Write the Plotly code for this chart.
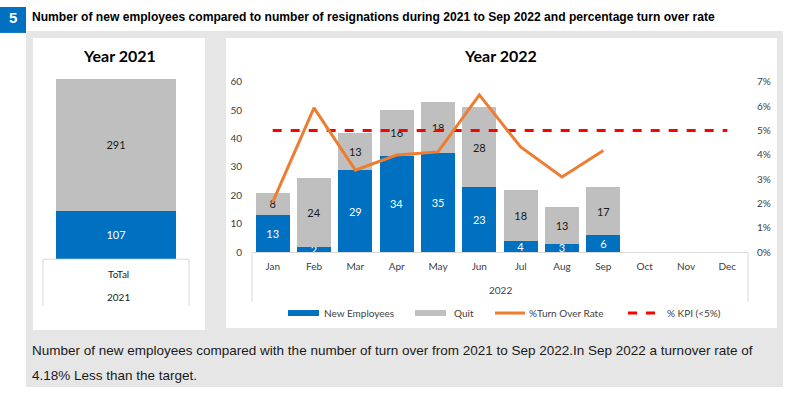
import plotly.graph_objects as go

W, H = 786, 393

# ---------------- data ----------------
months = ["Jan", "Feb", "Mar", "Apr", "May", "Jun", "Jul", "Aug", "Sep", "Oct", "Nov", "Dec"]
new_2022 = [13, 2, 29, 34, 35, 23, 4, 3, 6]
quit_2022 = [8, 24, 13, 16, 18, 28, 18, 13, 17]
turnover_rate = [0.0206, 0.0593, 0.0337, 0.0399, 0.0412, 0.0646, 0.0432, 0.0309, 0.0418]
kpi_rate = [0.05] * 12

year21_cat = ["2021"]
new_2021 = [107]
quit_2021 = [291]

y_ticks = [0, 10, 20, 30, 40, 50, 60]
y2_ticks = [0, 0.01, 0.02, 0.03, 0.04, 0.05, 0.06, 0.07]

header_title = "Number of new employees compared to number of resignations during 2021 to Sep 2022 and percentage turn over rate"
footer_line1 = "Number of new employees compared with the number of turn over from 2021 to Sep 2022.In Sep 2022 a turnover rate of"
footer_line2 = "4.18% Less than the target."

# ---------------- helpers (reference-pixel -> paper) ----------------
def px(x):
    return x / W

def py(y):
    page_y = (y - 6) / 0.97
    page_y = min(max(page_y, 0), H)
    return 1 - page_y / H

BLUE = "#0070C0"
GRAY = "#BFBFBF"
ORANGE = "#ED7D31"
RED = "#FF0000"
PANEL_BG = "#E7E6E6"
LINE = "#D9D9D9"
TXT = "#404040"
CHART_FONT = "Lato, Calibri, Carlito, sans-serif"

fig = go.Figure()

# ---------------- 2022 chart ----------------
fig.add_trace(go.Bar(
    x=months[:len(new_2022)], y=new_2022, name="New Employees",
    marker=dict(color=BLUE, line=dict(width=0)),
    text=new_2022, textposition="inside", insidetextanchor="middle", textangle=0,
    textfont=dict(color="white", size=11, family=CHART_FONT),
    xaxis="x", yaxis="y", showlegend=False, cliponaxis=True,
))
fig.add_trace(go.Bar(
    x=months[:len(quit_2022)], y=quit_2022, name="Quit",
    marker=dict(color=GRAY, line=dict(width=0)),
    text=quit_2022, textposition="inside", insidetextanchor="middle", textangle=0,
    textfont=dict(color="#1a1a1a", size=11, family=CHART_FONT),
    xaxis="x", yaxis="y", showlegend=False, cliponaxis=True,
))
fig.add_trace(go.Scatter(
    x=months[:len(kpi_rate)], y=kpi_rate, mode="lines", name="% KPI (<5%)",
    line=dict(color=RED, width=3, dash="dash"),
    xaxis="x", yaxis="y2", showlegend=False,
))
fig.add_trace(go.Scatter(
    x=months[:len(turnover_rate)], y=turnover_rate, mode="lines", name="%Turn Over Rate",
    line=dict(color=ORANGE, width=3),
    xaxis="x", yaxis="y2", showlegend=False,
))

# ---------------- 2021 chart ----------------
fig.add_trace(go.Bar(
    x=year21_cat, y=new_2021, marker=dict(color=BLUE, line=dict(width=0)),
    text=new_2021, textposition="inside", insidetextanchor="middle", textangle=0,
    textfont=dict(color="white", size=11, family=CHART_FONT),
    xaxis="x3", yaxis="y3", showlegend=False,
))
fig.add_trace(go.Bar(
    x=year21_cat, y=quit_2021, marker=dict(color=GRAY, line=dict(width=0)),
    text=quit_2021, textposition="inside", insidetextanchor="middle", textangle=0,
    textfont=dict(color="#1a1a1a", size=11, family=CHART_FONT),
    xaxis="x3", yaxis="y3", showlegend=False,
))

shapes = []
annotations = []

def ann(text, x, y, size, color, family=CHART_FONT, xanchor="center"):
    annotations.append(dict(text=text, x=px(x), y=py(y), xref="paper", yref="paper",
                            showarrow=False, xanchor=xanchor, yanchor="middle",
                            font=dict(color=color, size=size, family=family)))

# gray background and white panels
shapes.append(dict(type="rect", xref="paper", yref="paper", layer="below",
                   x0=px(26), x1=px(783), y0=py(393), y1=py(30),
                   fillcolor=PANEL_BG, line=dict(width=0)))
shapes.append(dict(type="rect", xref="paper", yref="paper", layer="below",
                   x0=px(33), x1=px(205), y0=py(330), y1=py(37),
                   fillcolor="white", line=dict(width=0)))
shapes.append(dict(type="rect", xref="paper", yref="paper", layer="below",
                   x0=px(226), x1=px(777), y0=py(328), y1=py(37),
                   fillcolor="white", line=dict(width=0)))
# header blue box
shapes.append(dict(type="rect", xref="paper", yref="paper",
                   x0=px(0), x1=px(26), y0=py(32), y1=py(5),
                   fillcolor=BLUE, line=dict(width=0)))
ann("<b>5</b>", 13, 17, 15, "white", "Liberation Sans, Arial")
ann("<b>" + header_title + "</b>", 30, 16, 12.1, "black", "Liberation Sans, Arial", "left")

# chart titles
ann("<b>Year 2021</b>", 119, 55, 16, "black")
ann("<b>Year 2022</b>", 500, 55, 16, "black")

# 2021 category box
for (x0, y0, x1, y1) in [(43, 259, 189, 259), (43, 259, 43, 306), (189, 259, 189, 306)]:
    shapes.append(dict(type="line", xref="paper", yref="paper",
                       x0=px(x0), x1=px(x1), y0=py(y0), y1=py(y1),
                       line=dict(color=LINE, width=1)))
ann("ToTal", 118, 274, 10, "#1a1a1a")
ann("2021", 118, 297, 10, "#1a1a1a")

# 2022 category box verticals + group label
for (x0, y0, x1, y1) in [(252, 252, 252, 302), (748, 252, 748, 302)]:
    shapes.append(dict(type="line", xref="paper", yref="paper",
                       x0=px(x0), x1=px(x1), y0=py(y0), y1=py(y1),
                       line=dict(color=LINE, width=1)))
ann("2022", 500, 290, 10, TXT)

# legend
LEG_Y = 313
shapes.append(dict(type="rect", xref="paper", yref="paper", x0=px(288), x1=px(319),
                   y0=py(316), y1=py(310), fillcolor=BLUE, line=dict(width=0)))
shapes.append(dict(type="rect", xref="paper", yref="paper", x0=px(415), x1=px(446),
                   y0=py(316), y1=py(310), fillcolor=GRAY, line=dict(width=0)))
shapes.append(dict(type="line", xref="paper", yref="paper", x0=px(495), x1=px(525),
                   y0=py(LEG_Y), y1=py(LEG_Y), line=dict(color=ORANGE, width=3)))
shapes.append(dict(type="line", xref="paper", yref="paper", x0=px(628), x1=px(660),
                   y0=py(LEG_Y), y1=py(LEG_Y), line=dict(color=RED, width=3, dash="dash")))
for label, xl in [("New Employees", 322), ("Quit", 452), ("%Turn Over Rate", 527), ("% KPI (<5%)", 665)]:
    ann(label, xl, LEG_Y, 10, TXT, CHART_FONT, "left")

# footer text
ann(footer_line1, 30, 351, 13.5, "#1a1a1a", "Liberation Sans Narrow, Arial Narrow, Liberation Sans", "left")
ann(footer_line2, 30, 376, 13.5, "#1a1a1a", "Liberation Sans Narrow, Arial Narrow, Liberation Sans", "left")

fig.update_layout(
    width=W, height=H,
    margin=dict(l=0, r=0, t=0, b=0),
    paper_bgcolor="white", plot_bgcolor="rgba(0,0,0,0)",
    barmode="stack", bargap=0.18,
    showlegend=False,
    uniformtext=dict(minsize=11, mode="show"),
    font=dict(family=CHART_FONT),
    xaxis=dict(domain=[px(252), px(748)], categoryorder="array", categoryarray=months,
               type="category", range=[-0.5, 11.5], showgrid=False, zeroline=False,
               showline=True, linecolor=LINE, linewidth=1, ticks="",
               tickfont=dict(size=10, color=TXT, family=CHART_FONT), ticklabelstandoff=5,
               anchor="y", fixedrange=True),
    yaxis=dict(domain=[py(252), py(81)], range=[0, 60], tickvals=y_ticks,
               showgrid=False, zeroline=False, showline=False, ticks="",
               tickfont=dict(size=10, color=TXT, family=CHART_FONT), ticklabelstandoff=9,
               anchor="x", fixedrange=True),
    yaxis2=dict(domain=[py(252), py(81)], range=[0, 0.07], tickvals=y2_ticks, tickformat=".0%",
                overlaying="y", side="right", anchor="x",
                showgrid=False, zeroline=False, showline=False, ticks="",
                tickfont=dict(size=10, color=TXT, family=CHART_FONT), ticklabelstandoff=8,
                fixedrange=True),
    xaxis3=dict(domain=[px(43), px(189)], type="category", showgrid=False, zeroline=False,
                showline=False, showticklabels=False, ticks="", anchor="y3", fixedrange=True),
    yaxis3=dict(domain=[py(259), py(78)], range=[0, 398], showgrid=False, zeroline=False,
                showline=False, showticklabels=False, ticks="", anchor="x3", fixedrange=True),
    shapes=shapes,
    annotations=annotations,
)

post_js = (
    "document.documentElement.style.margin='0';"
    "document.documentElement.style.padding='0';"
    "document.documentElement.style.overflow='hidden';"
    "document.body.style.margin='0';"
    "document.body.style.padding='0';"
    "document.body.style.overflow='hidden';"
    "var gd=document.getElementById('{plot_id}');"
    "gd.style.position='fixed';gd.style.left='0px';gd.style.top='0px';"
)

fig.write_html("out.html", config={"displayModeBar": False}, post_script=post_js)
